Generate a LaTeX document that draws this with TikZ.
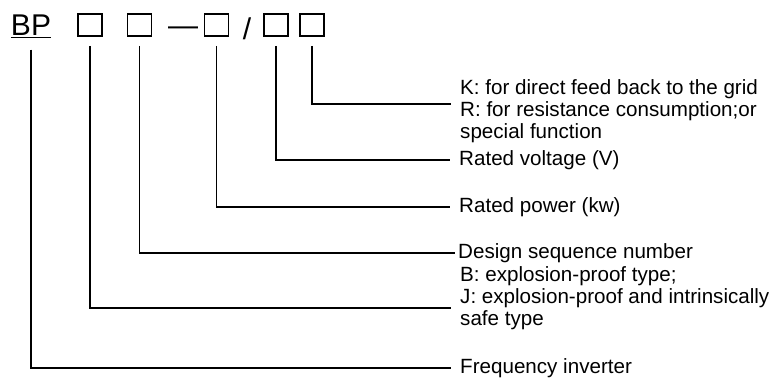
\documentclass[tikz,border=0pt]{standalone}
\usepackage{fontspec}
\setmainfont{Liberation Sans}
\usetikzlibrary{positioning}

\begin{document}
\begin{tikzpicture}[
  x=1pt,y=-1pt,
  digit/.style={draw,line width=1.5pt,minimum width=24pt,minimum height=22pt,inner sep=0pt},
  code/.style={font=\fontsize{30}{32}\selectfont,inner sep=0pt},
  lead/.style={line width=1.3pt,shorten <=9pt,shorten >=9pt},
  note/.style={anchor=west,inner sep=0pt,align=left,font=\fontsize{20.6}{22}\selectfont}
]
\useasboundingbox (0,0) rectangle (781,381);

\node[code] (bp) at (31,26) {\underline{BP}};
\node[digit] (b1) at (90,25) {};
\node[digit] (b2) at (139.5,25) {};
\node[code] (dash) at (183,31) {—};
\node[digit] (b3) at (216.5,25) {};
\node[code] (slash) at (247,29) {/};
\node[digit] (b4) at (276,25) {};
\node[digit] (b5) at (312,25) {};

\node[note] (feed) at (460,111) {K: for direct feed back to the grid\\R: for resistance consumption;or\\special function};
\node[note] (volt) at (459,160) {Rated voltage (V)};
\node[note] (power) at (459,207) {Rated power (kw)};
\node[note] (design) at (458,253) {Design sequence number};
\node[note] (proof) at (460,298) {B: explosion-proof type;\\J: explosion-proof and intrinsically\\safe type};
\node[note] (inverter) at (460,368) {Frequency inverter};

\draw[lead] (b5) |- ([yshift=7pt]feed.west);
\draw[lead] (b4) |- (volt.west);
\draw[lead] (b3) |- (power.west);
\draw[lead,shorten >=3pt] (b2) |- (design.west);
\draw[lead] (b1) |- ([yshift=-10pt]proof.west);
\draw[lead,shorten <=12pt] (bp) |- (inverter.west);
\end{tikzpicture}
\end{document}
